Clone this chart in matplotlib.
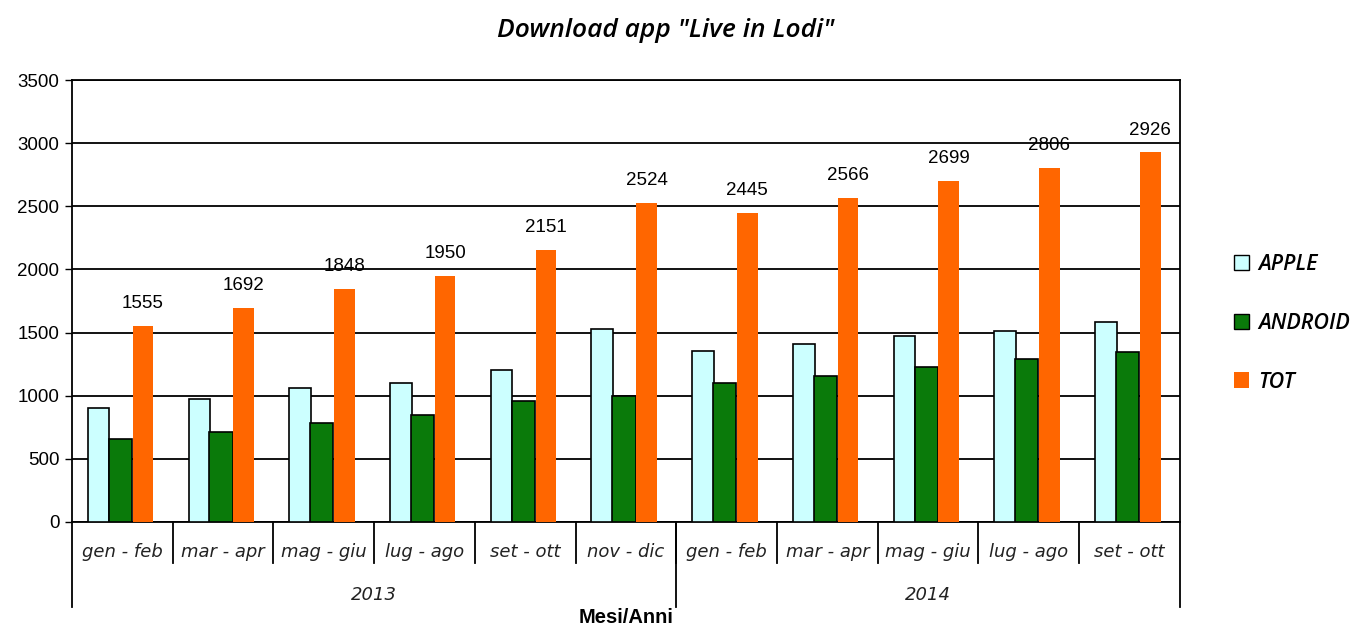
import matplotlib.pyplot as plt
import numpy as np
from matplotlib.patches import Patch

periods = ["gen - feb", "mar - apr", "mag - giu", "lug - ago", "set - ott", "nov - dic",
           "gen - feb", "mar - apr", "mag - giu", "lug - ago", "set - ott"]
years = ["2013", "2014"]
year_counts = [6, 5]
apple = [900, 972, 1059, 1098, 1201, 1528, 1355, 1412, 1471, 1515, 1586]
android = [657, 715, 787, 845, 958, 998, 1097, 1157, 1228, 1288, 1344]
tot = [1555, 1692, 1848, 1950, 2151, 2524, 2445, 2566, 2699, 2806, 2926]

c_apple = "#ccffff"
c_android = "#0a7a0a"
c_tot = "#ff6600"

fig = plt.figure(figsize=(13.55, 6.28), dpi=100)
ax = fig.add_axes([0.0531, 0.1688, 0.8177, 0.7038])

x = np.arange(len(periods))
w = 0.215
ax.bar(x - 0.235, apple, w, color=c_apple, edgecolor="black", linewidth=1.2, zorder=3)
ax.bar(x - 0.02, android, 0.23, color=c_android, edgecolor="black", linewidth=1.2, zorder=3)
ax.bar(x + 0.205, tot, 0.205, color=c_tot, edgecolor="none", zorder=3)

for xi, v in zip(x, tot):
    ax.annotate(str(v), (xi + 0.205, v), xytext=(0, 10), textcoords="offset points",
                ha="center", va="bottom", fontsize=13.5, family="Liberation Sans")

ax.set_xlim(-0.5, len(periods) - 0.5)
ax.set_ylim(0, 3500)
ax.set_yticks(range(0, 3501, 500))
ax.yaxis.grid(True, color="black", linewidth=1.3, zorder=1)
ax.set_axisbelow(True)
ax.tick_params(axis="y", length=5, width=1, labelsize=13.5, pad=4)
for lab in ax.get_yticklabels():
    lab.set_family("Liberation Sans")
ax.set_xticks([])
for s in ax.spines.values():
    s.set_linewidth(1.3)

# two-level category axis below the plot
tr = ax.get_xaxis_transform()
px = 1 / 442.0
for i, name in enumerate(periods):
    ax.text(i, -30 * px, name, transform=tr, ha="center", va="center",
            fontsize=13, style="italic", family="DejaVu Sans", color="#222222")
for b in np.arange(0.5, len(periods) - 1, 1.0):
    ax.plot([b, b], [0, -41 * px], transform=tr, color="black", lw=1.3, clip_on=False)
edges = [-0.5]
for n in year_counts:
    edges.append(edges[-1] + n)
for b in edges:
    ax.plot([b, b], [0, -85 * px], transform=tr, color="black", lw=1.3, clip_on=False)
for yname, a, b in zip(years, edges[:-1], edges[1:]):
    ax.text((a + b) / 2, -73 * px, yname, transform=tr, ha="center", va="center",
            fontsize=13, style="italic", family="DejaVu Sans", color="#222222")

fig.text(0.462, 0.016, "Mesi/Anni", ha="center", va="center", fontsize=14.5,
         fontweight="bold", family="Liberation Sans")
fig.text(0.491, 0.952, 'Download app "Live in Lodi"', ha="center", va="center",
         fontsize=19, style="italic", fontweight="semibold", family="Open Sans")

handles = [Patch(facecolor=c_apple, edgecolor="black"),
           Patch(facecolor=c_android, edgecolor="black"),
           Patch(facecolor=c_tot, edgecolor="none")]
leg = fig.legend(handles, ["APPLE", "ANDROID", "TOT"], loc="center left",
                 bbox_to_anchor=(0.9026, 0.485), frameon=False, borderpad=0,
                 handlelength=0.72, handleheight=0.72, handletextpad=0.4,
                 labelspacing=1.75,
                 prop={"size": 15.5, "style": "italic", "weight": "semibold",
                       "family": "Open Sans"})

fig.savefig("out.png", dpi=100, facecolor="white")
